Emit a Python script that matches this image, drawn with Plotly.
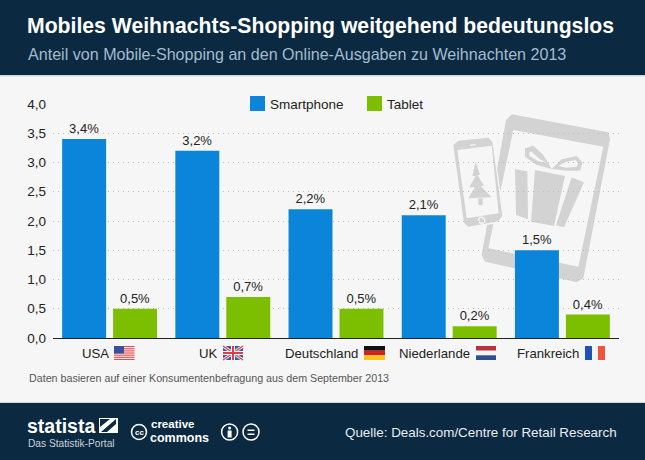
import plotly.graph_objects as go

categories = ["USA", "UK", "Deutschland", "Niederlande", "Frankreich"]
smartphone = [3.4, 3.2, 2.2, 2.1, 1.5]
tablet = [0.5, 0.7, 0.5, 0.2, 0.4]
y_ticks = [0, 0.5, 1, 1.5, 2, 2.5, 3, 3.5, 4]
series_names = ["Smartphone", "Tablet"]

W, H = 645, 460
L, R, T, B = 53, 619, 104, 338
FONT = "Liberation Sans"
DARK = "#0b2940"
BG = "#f6f6f6"
GREY = "#d3d3d3"
BLUE = "#0a85d9"
GREEN = "#7cbf00"


def fx(x):
    return (x - L) / (R - L)


def fy(y):
    return (B - y) / (B - T)


shapes = []


def rect(x0, y0, x1, y1, color, layer="below"):
    shapes.append(dict(type="rect", xref="paper", yref="paper", x0=fx(x0), x1=fx(x1),
                       y0=fy(y1), y1=fy(y0), fillcolor=color, line_width=0, layer=layer))


def poly(points, color, layer="between"):
    d = ""
    for i, (x, y) in enumerate(points):
        d += ("M" if i == 0 else "L") + f"{fx(x):.5f},{fy(y):.5f}"
    d += "Z"
    shapes.append(dict(type="path", xref="paper", yref="paper", path=d, layer=layer,
                       fillcolor=color, line=dict(color=color, width=0)))


def circle(cx, cy, r, fill, line, width=1.5, layer="above"):
    shapes.append(dict(type="circle", xref="paper", yref="paper", x0=fx(cx - r), x1=fx(cx + r),
                       y0=fy(cy + r), y1=fy(cy - r), fillcolor=fill,
                       line=dict(color=line, width=width), layer=layer))


def z(points):
    return [(430 + x / 3, 100 + y / 3) for x, y in points]


# header and footer bands
rect(0, 0, W, 75, DARK)
rect(0, 75, W, 76.5, "#cfd8e0")
rect(0, 403, W, H, DARK)
rect(0, 402, W, 403, "#cfd8e0")

# tablet
poly(z([(245, 43), (535, 97), (540, 118), (460, 535), (440, 547), (165, 485), (155, 465), (228, 60)]), GREY)
poly(z([(250, 90), (520, 140), (445, 500), (175, 445)]), BG)
# gift
poly(z([(255, 208), (292, 214), (294, 358), (258, 345)]), GREY)
poly(z([(315, 210), (405, 228), (372, 378), (303, 365)]), GREY)
poly(z([(425, 232), (462, 247), (402, 382), (378, 376)]), GREY)
poly(z([(365, 207), (320, 195), (285, 170), (285, 145), (310, 137), (340, 165), (365, 207),
        (395, 178), (440, 168), (458, 188), (450, 212), (410, 212)]), GREY)
poly(z([(350, 188), (328, 176), (305, 155), (298, 155), (298, 167), (325, 184)]), BG)
poly(z([(385, 198), (405, 186), (438, 180), (444, 192), (440, 200), (410, 203)]), BG)
# phone
poly(z([(65, 128), (85, 118), (175, 110), (190, 125), (222, 350), (210, 368), (115, 385), (100, 372)]), BG)
poly(z([(70, 135), (85, 122), (175, 113), (187, 125), (217, 348), (205, 364), (115, 380), (102, 368)]), GREY)
poly(z([(82, 150), (185, 137), (206, 340), (110, 355)]), BG)
poly(z([(120, 134), (137, 132), (137, 136), (120, 138)]), BG)
circle(430 + 155 / 3, 100 + 361 / 3, 3, GREY, BG, 1.5, "between")
poly(z([(137, 185), (150, 225), (143, 225), (162, 258), (152, 258), (185, 292), (115, 295), (135, 262),
        (118, 262), (137, 228), (127, 228)]), GREY)
poly(z([(145, 295), (158, 295), (158, 315), (145, 315)]), GREY)

# legend swatches
rect(250, 96, 265, 111, BLUE, "above")
rect(367, 96, 382, 111, GREEN, "above")

# flags (decorative)
y0f, y1f = 346, 360
rect(114, y0f, 134.5, y1f, "#f4f4f4", "above")
for i in range(7):
    rect(114, y0f + i * 2.15, 134.5, y0f + i * 2.15 + 1.1, "#ea4a4a", "above")
rect(114, y0f, 124, y0f + 7.5, "#3c4f9f", "above")
rect(223, y0f, 243, y1f, "#3a5a9f", "above")
for c, w in [("#f0f0f0", 3), ("#d8404a", 1.2)]:
    for p, q in [((223, y0f), (243, y1f)), ((223, y1f), (243, y0f))]:
        shapes.append(dict(type="line", xref="paper", yref="paper", x0=fx(p[0]), y0=fy(p[1]),
                           x1=fx(q[0]), y1=fy(q[1]), line=dict(color=c, width=w), layer="above"))
rect(223, 351, 243, 355, "#f0f0f0", "above")
rect(231, y0f, 235, y1f, "#f0f0f0", "above")
rect(223, 352, 243, 354, "#d8404a", "above")
rect(232, y0f, 234, y1f, "#d8404a", "above")
rect(364, 346, 385, 350.7, "#111111", "above")
rect(364, 350.7, 385, 355.3, "#d81e1e", "above")
rect(364, 355.3, 385, 360, "#f7c51e", "above")
rect(476, 346, 496, 350.7, "#b8323c", "above")
rect(476, 350.7, 496, 355.3, "#f4f4f4", "above")
rect(476, 355.3, 496, 360, "#2f4f93", "above")
rect(585, 346, 592, 360, "#1f54b0", "above")
rect(592, 346, 598, 360, "#f4f4f4", "above")
rect(598, 346, 605, 360, "#f0523f", "above")

# footer logo
rect(99, 418, 118, 433, "#ffffff", "above")
poly([(101, 432), (116, 419), (116, 424), (107, 432)], DARK, "above")
poly([(100, 419), (110, 419), (100, 427)], DARK, "above")
circle(139, 432, 7.5, "rgba(0,0,0,0)", "#ffffff")
circle(229.6, 432, 8, "rgba(0,0,0,0)", "#ffffff")
circle(251, 432, 8, "rgba(0,0,0,0)", "#ffffff")
circle(229.6, 428, 1.5, "#ffffff", "#ffffff", 0)
rect(227.6, 430.5, 231.6, 437.5, "#ffffff", "above")
rect(247.5, 429.5, 254.5, 431, "#ffffff", "above")
rect(247.5, 433.5, 254.5, 435, "#ffffff", "above")

annotations = []


def text(x, y, s, size, color, anchor="left", family=FONT):
    annotations.append(dict(xref="paper", yref="paper", x=fx(x), y=fy(y), text=s, showarrow=False,
                            xanchor=anchor, yanchor="middle", align=anchor,
                            font=dict(family=family, size=size, color=color), borderpad=0))


text(26, 26, "<b>Mobiles Weihnachts-Shopping weitgehend bedeutungslos</b>", 21.2, "#ffffff")
text(27, 54, "Anteil von Mobile-Shopping an den Online-Ausgaben zu Weihnachten 2013", 16.1, "#a3bccf")
text(269, 104, series_names[0], 13.5, "#222222")
text(386, 104, series_names[1], 13.5, "#222222")
text(28, 378, "Daten basieren auf einer Konsumentenbefragung aus dem September 2013", 10.7, "#555555")
text(618, 432, "Quelle: Deals.com/Centre for Retail Research", 13.4, "#e8eef3", "right")
text(26, 426, "<b>statista</b>", 19.5, "#ffffff")
text(27, 443, "Das Statistik-Portal", 10.2, "#c8d4dd")
text(139, 432.5, "<b>cc</b>", 8, "#ffffff", "center")
text(149.5, 423.5, "<b>creative</b>", 11.5, "#ffffff")
text(149, 437.5, "<b>commons</b>", 12.5, "#ffffff")

# category labels sit left of their flags
label_right = [111, 220, 360, 472, 581]
cat_px = [L + (i + 0.5) * (R - L) / len(categories) for i in range(len(categories))]
for c, right, cx in zip(categories, label_right, cat_px):
    annotations.append(dict(xref="x", yref="paper", x=c, y=fy(353.5), text=c, showarrow=False,
                            xanchor="right", yanchor="middle", xshift=right - cx,
                            font=dict(family=FONT, size=13.2, color="#222222")))


def fmt(v):
    return f"{v:.1f}".replace(".", ",") + "%"


fig = go.Figure()
for name, vals, col in [(series_names[0], smartphone, BLUE), (series_names[1], tablet, GREEN)]:
    fig.add_trace(go.Bar(name=name, x=categories, y=vals, marker=dict(color=col, line_width=0),
                         text=[fmt(v) for v in vals], textposition="outside", cliponaxis=False,
                         textfont=dict(family=FONT, size=13, color="#222222"), showlegend=False))

fig.update_layout(
    width=W, height=H, margin=dict(l=L, r=W - R, t=T, b=H - B, pad=0, autoexpand=False),
    paper_bgcolor=BG, plot_bgcolor="rgba(0,0,0,0)", separators=", ",
    barmode="group", bargap=0.1, bargroupgap=0.137,
    shapes=shapes, annotations=annotations,
    xaxis=dict(type="category", showticklabels=False, showgrid=False, ticks="", showline=True,
               linecolor="#222222", linewidth=1.2, zeroline=False),
    yaxis=dict(range=[0, 4], tickvals=y_ticks, tickformat=".1f", showgrid=True, gridcolor="#bdbdbd",
               griddash="1px,4px", gridwidth=1, zeroline=False, ticks="", showline=False, ticklabelstandoff=6,
               tickfont=dict(family=FONT, size=13.5, color="#222222")),
)
fig.write_html("out.html", config=dict(displayModeBar=False), post_script="document.body.style.margin='0';")
